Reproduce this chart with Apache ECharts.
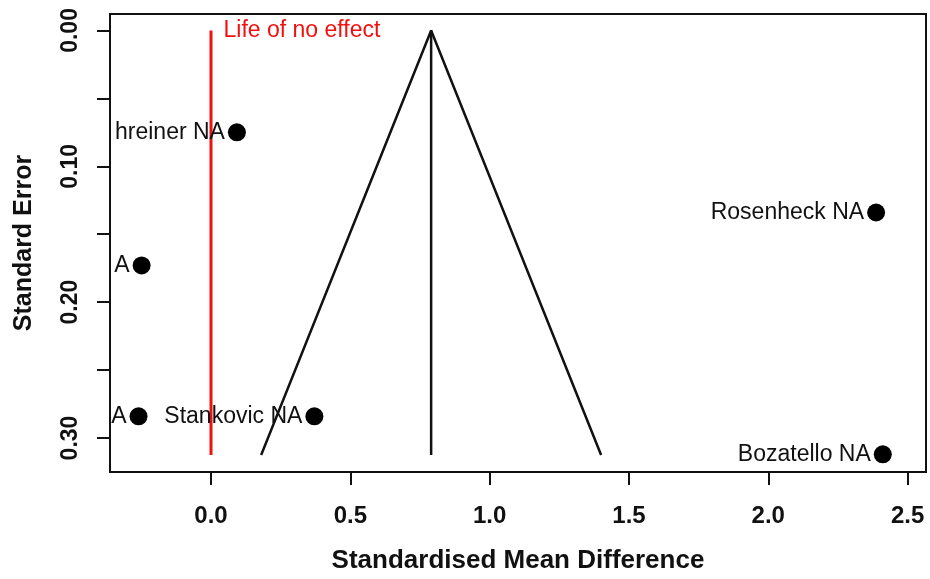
<!DOCTYPE html>
<html>
<head>
<meta charset="utf-8">
<script src="https://cdn.jsdelivr.net/npm/echarts@6/dist/echarts.min.js"></script>
<style>
    html,body{margin:0;padding:0;background:#fff;}
    #funnel{width:930px;height:579px;}
</style>
</head>
<body>
<div id="funnel"></div>
<script>
    // studies: standardised mean difference vs standard error
    var studyNames = ['hreiner NA', 'A', 'A', 'Stankovic NA', 'Rosenheck NA', 'Bozatello NA'];
    var studySMD = [0.093, -0.249, -0.26, 0.371, 2.387, 2.411];
    var studySE = [0.075, 0.173, 0.284, 0.284, 0.134, 0.312];

    // funnel: pooled estimate and its 95% limits at the largest SE
    var pooledSMD = 0.79;
    var funnelSE = [0, 0.3125];
    var funnelLimits = [0.18, 1.40];
    var noEffect = 0;

    var xTicks = [0, 0.5, 1.0, 1.5, 2.0, 2.5];
    var yTicks = [0, 0.05, 0.10, 0.15, 0.20, 0.25, 0.30];
    var yLabels = [0, 0.10, 0.20, 0.30];

    var fontFam = "'Liberation Sans', Arial, sans-serif";

    var pts = [];
    for (var i = 0; i < studyNames.length; i++) {
        pts.push({name: studyNames[i], value: [studySMD[i], studySE[i]]});
    }

    var chart = echarts.init(document.getElementById('funnel'));
    chart.setOption({
        animation: false,
        backgroundColor: '#fff',
        grid: {
            left: 110, top: 14, right: 4, bottom: 106,
            show: true, borderColor: '#111', borderWidth: 2
        },
        xAxis: {
            type: 'value',
            min: -0.3625, max: 2.566,
            name: 'Standardised Mean Difference',
            nameLocation: 'middle',
            nameGap: 76,
            nameTextStyle: {fontFamily: fontFam, fontWeight: 'bold', fontSize: 26, color: '#111'},
            axisLine: {show: false, onZero: false},
            splitLine: {show: false},
            axisTick: {show: true, length: 13, customValues: xTicks,
                lineStyle: {color: '#111', width: 2}},
            axisLabel: {customValues: xTicks, margin: 32, color: '#111',
                fontFamily: fontFam, fontWeight: 'bold', fontSize: 24,
                formatter: function(v){ return v.toFixed(1); }}
        },
        yAxis: {
            type: 'value',
            inverse: true,
            min: -0.0121, max: 0.325,
            name: 'Standard Error',
            nameLocation: 'middle',
            nameGap: 73,
            nameTextStyle: {fontFamily: fontFam, fontWeight: 'bold', fontSize: 25, color: '#111'},
            axisLine: {show: false, onZero: false},
            splitLine: {show: false},
            axisTick: {show: true, length: 13, customValues: yTicks,
                lineStyle: {color: '#111', width: 2}},
            axisLabel: {customValues: yLabels, rotate: 90, margin: 28, color: '#111',
                fontFamily: fontFam, fontWeight: 'bold', fontSize: 23,
                formatter: function(v){ return v.toFixed(2); }}
        },
        series: [
            {
                // line of no effect
                type: 'line',
                data: [[noEffect, funnelSE[0]], [noEffect, funnelSE[1]]],
                symbol: 'none',
                lineStyle: {color: '#f01010', width: 3},
                z: 2,
                markPoint: {
                    symbol: 'rect', symbolSize: 1,
                    itemStyle: {color: 'rgba(0,0,0,0)'},
                    data: [{coord: [noEffect, funnelSE[0]], value: 'Life of no effect'}],
                    label: {show: true, position: 'right', distance: 12,
                        formatter: 'Life of no effect', color: '#f01010',
                        fontFamily: fontFam, fontSize: 23}
                }
            },
            {
                // funnel sides
                type: 'line',
                data: [[funnelLimits[0], funnelSE[1]], [pooledSMD, funnelSE[0]], [funnelLimits[1], funnelSE[1]]],
                symbol: 'none',
                lineStyle: {color: '#111', width: 2.5},
                z: 3
            },
            {
                // pooled estimate
                type: 'line',
                data: [[pooledSMD, funnelSE[0]], [pooledSMD, funnelSE[1]]],
                symbol: 'none',
                lineStyle: {color: '#111', width: 2.5},
                z: 3
            },
            {
                type: 'scatter',
                data: pts,
                symbolSize: 18,
                itemStyle: {color: '#000', opacity: 1},
                z: 2,
                label: {show: true, position: 'left', distance: 3,
                    formatter: function(p){ return p.name; },
                    color: '#111', fontFamily: fontFam, fontSize: 23}
            }
        ]
    });
</script>
</body>
</html>
